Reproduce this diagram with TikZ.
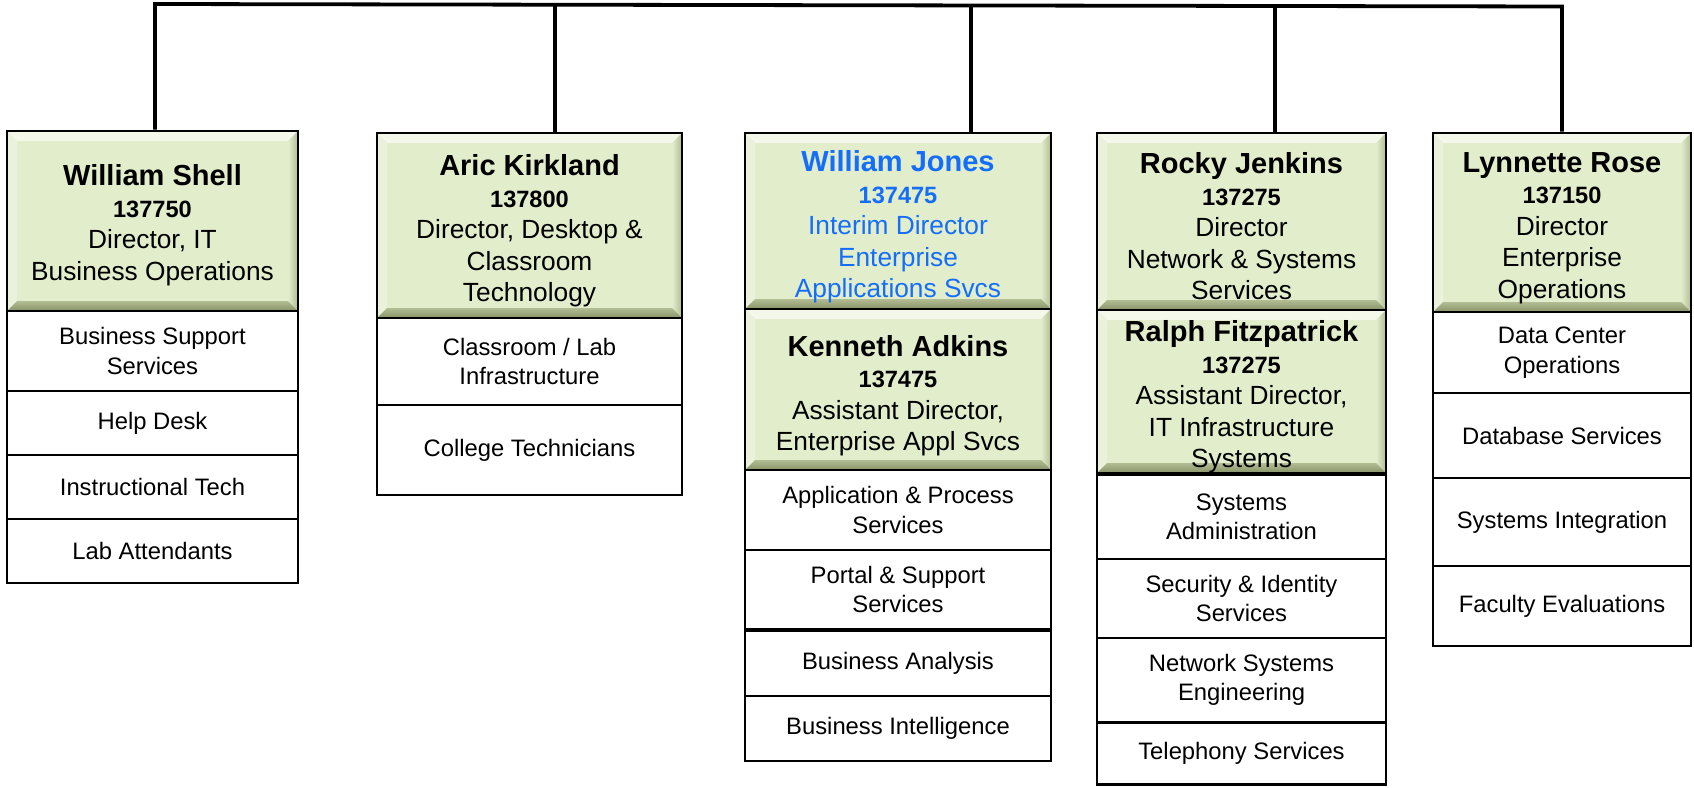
\documentclass[tikz,border=0pt]{standalone}
\usepackage{fontspec}
\setmainfont{Liberation Sans}
\definecolor{gfill}{RGB}{226,237,204}
\definecolor{glight}{RGB}{243,248,234}
\definecolor{gleft}{RGB}{234,242,219}
\definecolor{gdark}{RGB}{135,146,104}
\definecolor{gmid}{RGB}{178,189,147}
\definecolor{jblue}{RGB}{20,110,250}
\newcommand{\nmfont}{\bfseries\fontsize{29}{31.5}\selectfont}
\newcommand{\idfont}{\bfseries\fontsize{23.6}{31.5}\selectfont}
\tikzset{
  busline/.style={line width=3.8pt, line join=miter},
  greenbox/.style={draw=black, line width=2.6pt, fill=gfill, inner sep=0pt,
    path picture={
      \fill[glight] (path picture bounding box.north west) -- (path picture bounding box.north east)
        -- ([xshift=-10pt,yshift=-10pt]path picture bounding box.north east)
        -- ([xshift=10pt,yshift=-10pt]path picture bounding box.north west) -- cycle;
      \fill[gleft] (path picture bounding box.north west) -- ([xshift=10pt,yshift=-10pt]path picture bounding box.north west)
        -- ([xshift=10pt,yshift=10pt]path picture bounding box.south west)
        -- (path picture bounding box.south west) -- cycle;
      \shade[left color=gfill, right color=gmid] (path picture bounding box.north east) -- ([xshift=-10pt,yshift=-10pt]path picture bounding box.north east)
        -- ([xshift=-10pt,yshift=10pt]path picture bounding box.south east)
        -- (path picture bounding box.south east) -- cycle;
      \shade[top color=gmid, bottom color=gdark] (path picture bounding box.south west) -- ([xshift=10pt,yshift=10pt]path picture bounding box.south west)
        -- ([xshift=-10pt,yshift=10pt]path picture bounding box.south east)
        -- (path picture bounding box.south east) -- cycle;
    }},
  gtext/.style={inner sep=0pt, align=center, font=\fontsize{26.3}{31.5}\selectfont},
  whitebox/.style={draw=black, line width=2.4pt, fill=white, inner sep=0pt, align=center,
    font=\fontsize{23.8}{29.5}\selectfont},
}
\begin{document}
\begin{tikzpicture}[x=1pt,y=-1pt]
\useasboundingbox (0,0) rectangle (1694,787);

% column 1
\node[greenbox, minimum width=291pt, minimum height=180pt] (g1) at (152.5,221) {};
\node[gtext] (g1t) at ([yshift=-4pt]g1.center)
  {{\nmfont William Shell}\\{\idfont 137750}\\Director, IT\\Business Operations};
\node[whitebox, minimum width=291pt, minimum height=80pt] (w11) at (152.5,351) {Business Support\\Services};
\node[whitebox, minimum width=291pt, minimum height=64pt] (w12) at (152.5,423) {Help Desk};
\node[whitebox, minimum width=291pt, minimum height=64pt] (w13) at (152.5,487) {Instructional Tech};
\node[whitebox, minimum width=291pt, minimum height=64pt] (w14) at (152.5,551) {Lab Attendants};

% column 2
\node[greenbox, minimum width=305pt, minimum height=185pt] (g2) at (529.5,225.5) {};
\node[gtext] (g2t) at ([yshift=-5.5pt]g2.center)
  {{\nmfont Aric Kirkland}\\{\idfont 137800}\\Director, Desktop \&\\Classroom\\Technology};
\node[whitebox, minimum width=305pt, minimum height=87pt] (w21) at (529.5,361.5) {Classroom / Lab\\Infrastructure};
\node[whitebox, minimum width=305pt, minimum height=90pt] (w22) at (529.5,450) {College Technicians};

% column 3
\node[greenbox, minimum width=306pt, minimum height=176pt] (g3a) at (898,221) {};
\node[gtext, text=jblue] (g3at) at ([yshift=-6pt]g3a.center)
  {{\nmfont William Jones}\\{\idfont 137475}\\Interim Director\\Enterprise\\Applications Svcs};
\node[greenbox, minimum width=306pt, minimum height=161pt] (g3b) at (898,389.5) {};
\node[gtext] (g3bt) at ([yshift=-6pt]g3b.center)
  {{\nmfont Kenneth Adkins}\\{\idfont 137475}\\Assistant Director,\\Enterprise Appl Svcs};
\node[whitebox, minimum width=306pt, minimum height=80pt] (w31) at (898,510) {Application \& Process\\Services};
\node[whitebox, minimum width=306pt, minimum height=79pt] (w32) at (898,589.5) {Portal \& Support\\Services};
\node[whitebox, minimum width=306pt, minimum height=65pt] (w33) at (898,663.5) {Business Analysis};
\node[whitebox, minimum width=306pt, minimum height=65pt] (w34) at (898,728.5) {Business Intelligence};

% column 4
\node[greenbox, minimum width=289pt, minimum height=177pt] (g4a) at (1241.5,221.5) {};
\node[gtext] (g4at) at ([yshift=-5pt]g4a.center)
  {{\nmfont Rocky Jenkins}\\{\idfont 137275}\\Director\\Network \& Systems\\Services};
\node[greenbox, minimum width=289pt, minimum height=163pt] (g4b) at (1241.5,391.5) {};
\node[gtext] (g4bt) at ([yshift=-5.5pt]g4b.center)
  {{\nmfont Ralph Fitzpatrick}\\{\idfont 137275}\\Assistant Director,\\IT Infrastructure\\Systems};
\node[whitebox, minimum width=289pt, minimum height=84pt] (w41) at (1241.5,517) {Systems\\Administration};
\node[whitebox, minimum width=289pt, minimum height=79pt] (w42) at (1241.5,598.5) {Security \& Identity\\Services};
\node[whitebox, minimum width=289pt, minimum height=84pt] (w43) at (1241.5,680) {Network Systems\\Engineering};
\node[whitebox, minimum width=289pt, minimum height=62pt] (w44) at (1241.5,753.5) {Telephony Services};

% column 5
\node[greenbox, minimum width=258pt, minimum height=179pt] (g5) at (1562,222.5) {};
\node[gtext] (g5t) at ([yshift=-5.5pt]g5.center)
  {{\nmfont Lynnette Rose}\\{\idfont 137150}\\Director\\Enterprise\\Operations};
\node[whitebox, minimum width=258pt, minimum height=81pt] (w51) at (1562,352.5) {Data Center\\Operations};
\node[whitebox, minimum width=258pt, minimum height=85pt] (w52) at (1562,435.5) {Database Services};
\node[whitebox, minimum width=258pt, minimum height=88pt] (w53) at (1562,522) {Systems Integration};
\node[whitebox, minimum width=258pt, minimum height=80pt] (w54) at (1562,606) {Faculty Evaluations};

% connectors
\coordinate (t1) at (155,4);
\coordinate (t2) at (555,4.7);
\coordinate (t3) at (971,5.5);
\coordinate (t4) at (1275,6);
\coordinate (t5) at (1562,6.5);
\draw[busline] (t1 |- g1.north) -- (t1) -- (t5) -- (t5 |- g5.north);
\draw[busline] (t2) -- (t2 |- g2.north);
\draw[busline] (t3) -- (t3 |- g3a.north);
\draw[busline] (t4) -- (t4 |- g4a.north);
\end{tikzpicture}
\end{document}
